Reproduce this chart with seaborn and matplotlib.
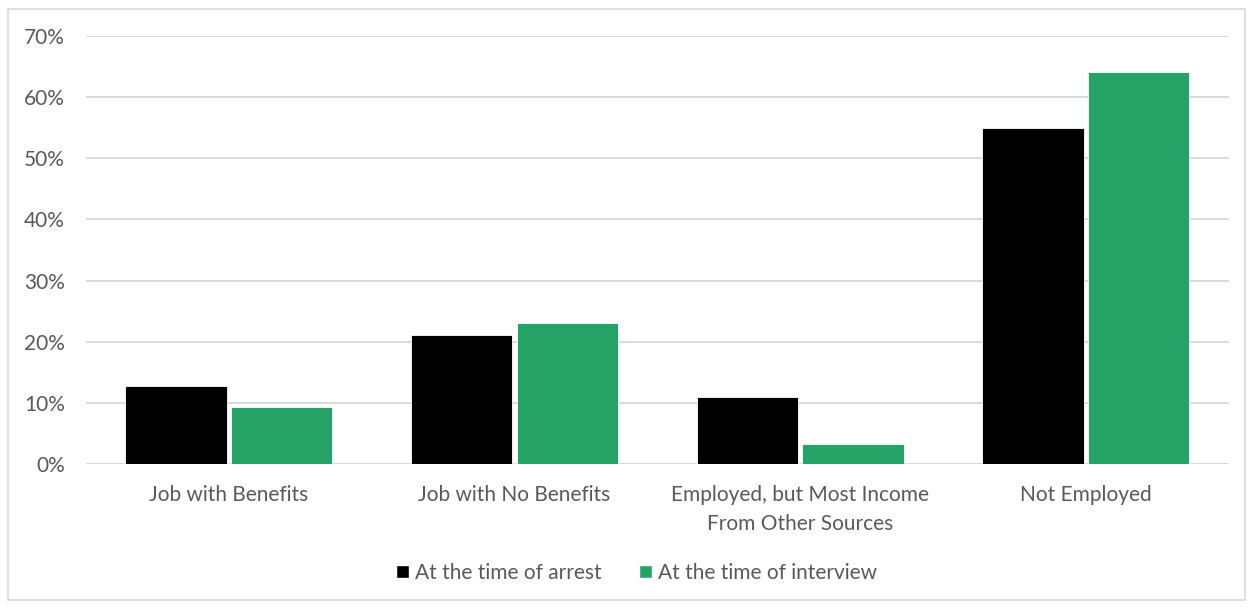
import matplotlib
matplotlib.use("Agg")
import matplotlib.pyplot as plt
import matplotlib.patches as mpatches
import seaborn as sns
import pandas as pd

categories = ["Job with Benefits", "Job with No Benefits",
              "Employed, but Most Income\nFrom Other Sources", "Not Employed"]
series_names = ["At the time of arrest", "At the time of interview"]
arrest = [12.8, 21.1, 10.9, 54.9]
interview = [9.3, 23.0, 3.3, 64.1]
yticks = [0, 10, 20, 30, 40, 50, 60, 70]
ytick_labels = ["0%", "10%", "20%", "30%", "40%", "50%", "60%", "70%"]
colors = ["#000000", "#25A265"]

df = pd.DataFrame({
    "category": categories * 2,
    "series": [series_names[0]] * 4 + [series_names[1]] * 4,
    "value": arrest + interview,
})

sns.set_theme(style="white")
plt.rcParams["font.family"] = ["Lato", "DejaVu Sans"]

fig = plt.figure(figsize=(12.53, 6.09), dpi=100)
ax = fig.add_axes([0.0686, 0.238, 0.912, 0.703])

sns.barplot(data=df, x="category", y="value", hue="series", order=categories,
            hue_order=series_names, palette=colors, saturation=1,
            width=0.74, gap=0.04,
            edgecolor="white", linewidth=0.6, ax=ax, legend=False, zorder=3)

fs = 15
ax.set_ylim(0, 70)
ax.set_xlim(-0.5, 3.5)
ax.set_yticks(yticks)
ax.set_yticklabels(ytick_labels, color="#595959", fontsize=fs)
ax.tick_params(axis="x", colors="#595959", labelsize=fs, pad=15, length=0)
ax.tick_params(axis="y", length=0, pad=15)
for lbl in ax.get_xticklabels():
    lbl.set_linespacing(1.6)
ax.set_xlabel("")
ax.set_ylabel("")
ax.grid(axis="y", color="#d9d9d9", linewidth=1.4, zorder=0)
ax.set_axisbelow(True)
for s in ax.spines.values():
    s.set_visible(False)

handles = [mpatches.Rectangle((0, 0), 1, 1, facecolor=c) for c in colors]
fig.legend(handles, series_names, loc="center", bbox_to_anchor=(0.508, 0.059),
           ncol=2, frameon=False, handlelength=0.6, handleheight=0.6,
           handletextpad=0.3, columnspacing=1.8,
           prop={"size": fs}, labelcolor="#595959")

border = mpatches.Rectangle((8 / 1253, 1 - 600 / 609), 1237 / 1253, 591 / 609,
                            transform=fig.transFigure, fill=False,
                            edgecolor="#d9d9d9", linewidth=1.2)
fig.patches.append(border)

fig.savefig("out.png", dpi=100, facecolor="white")
